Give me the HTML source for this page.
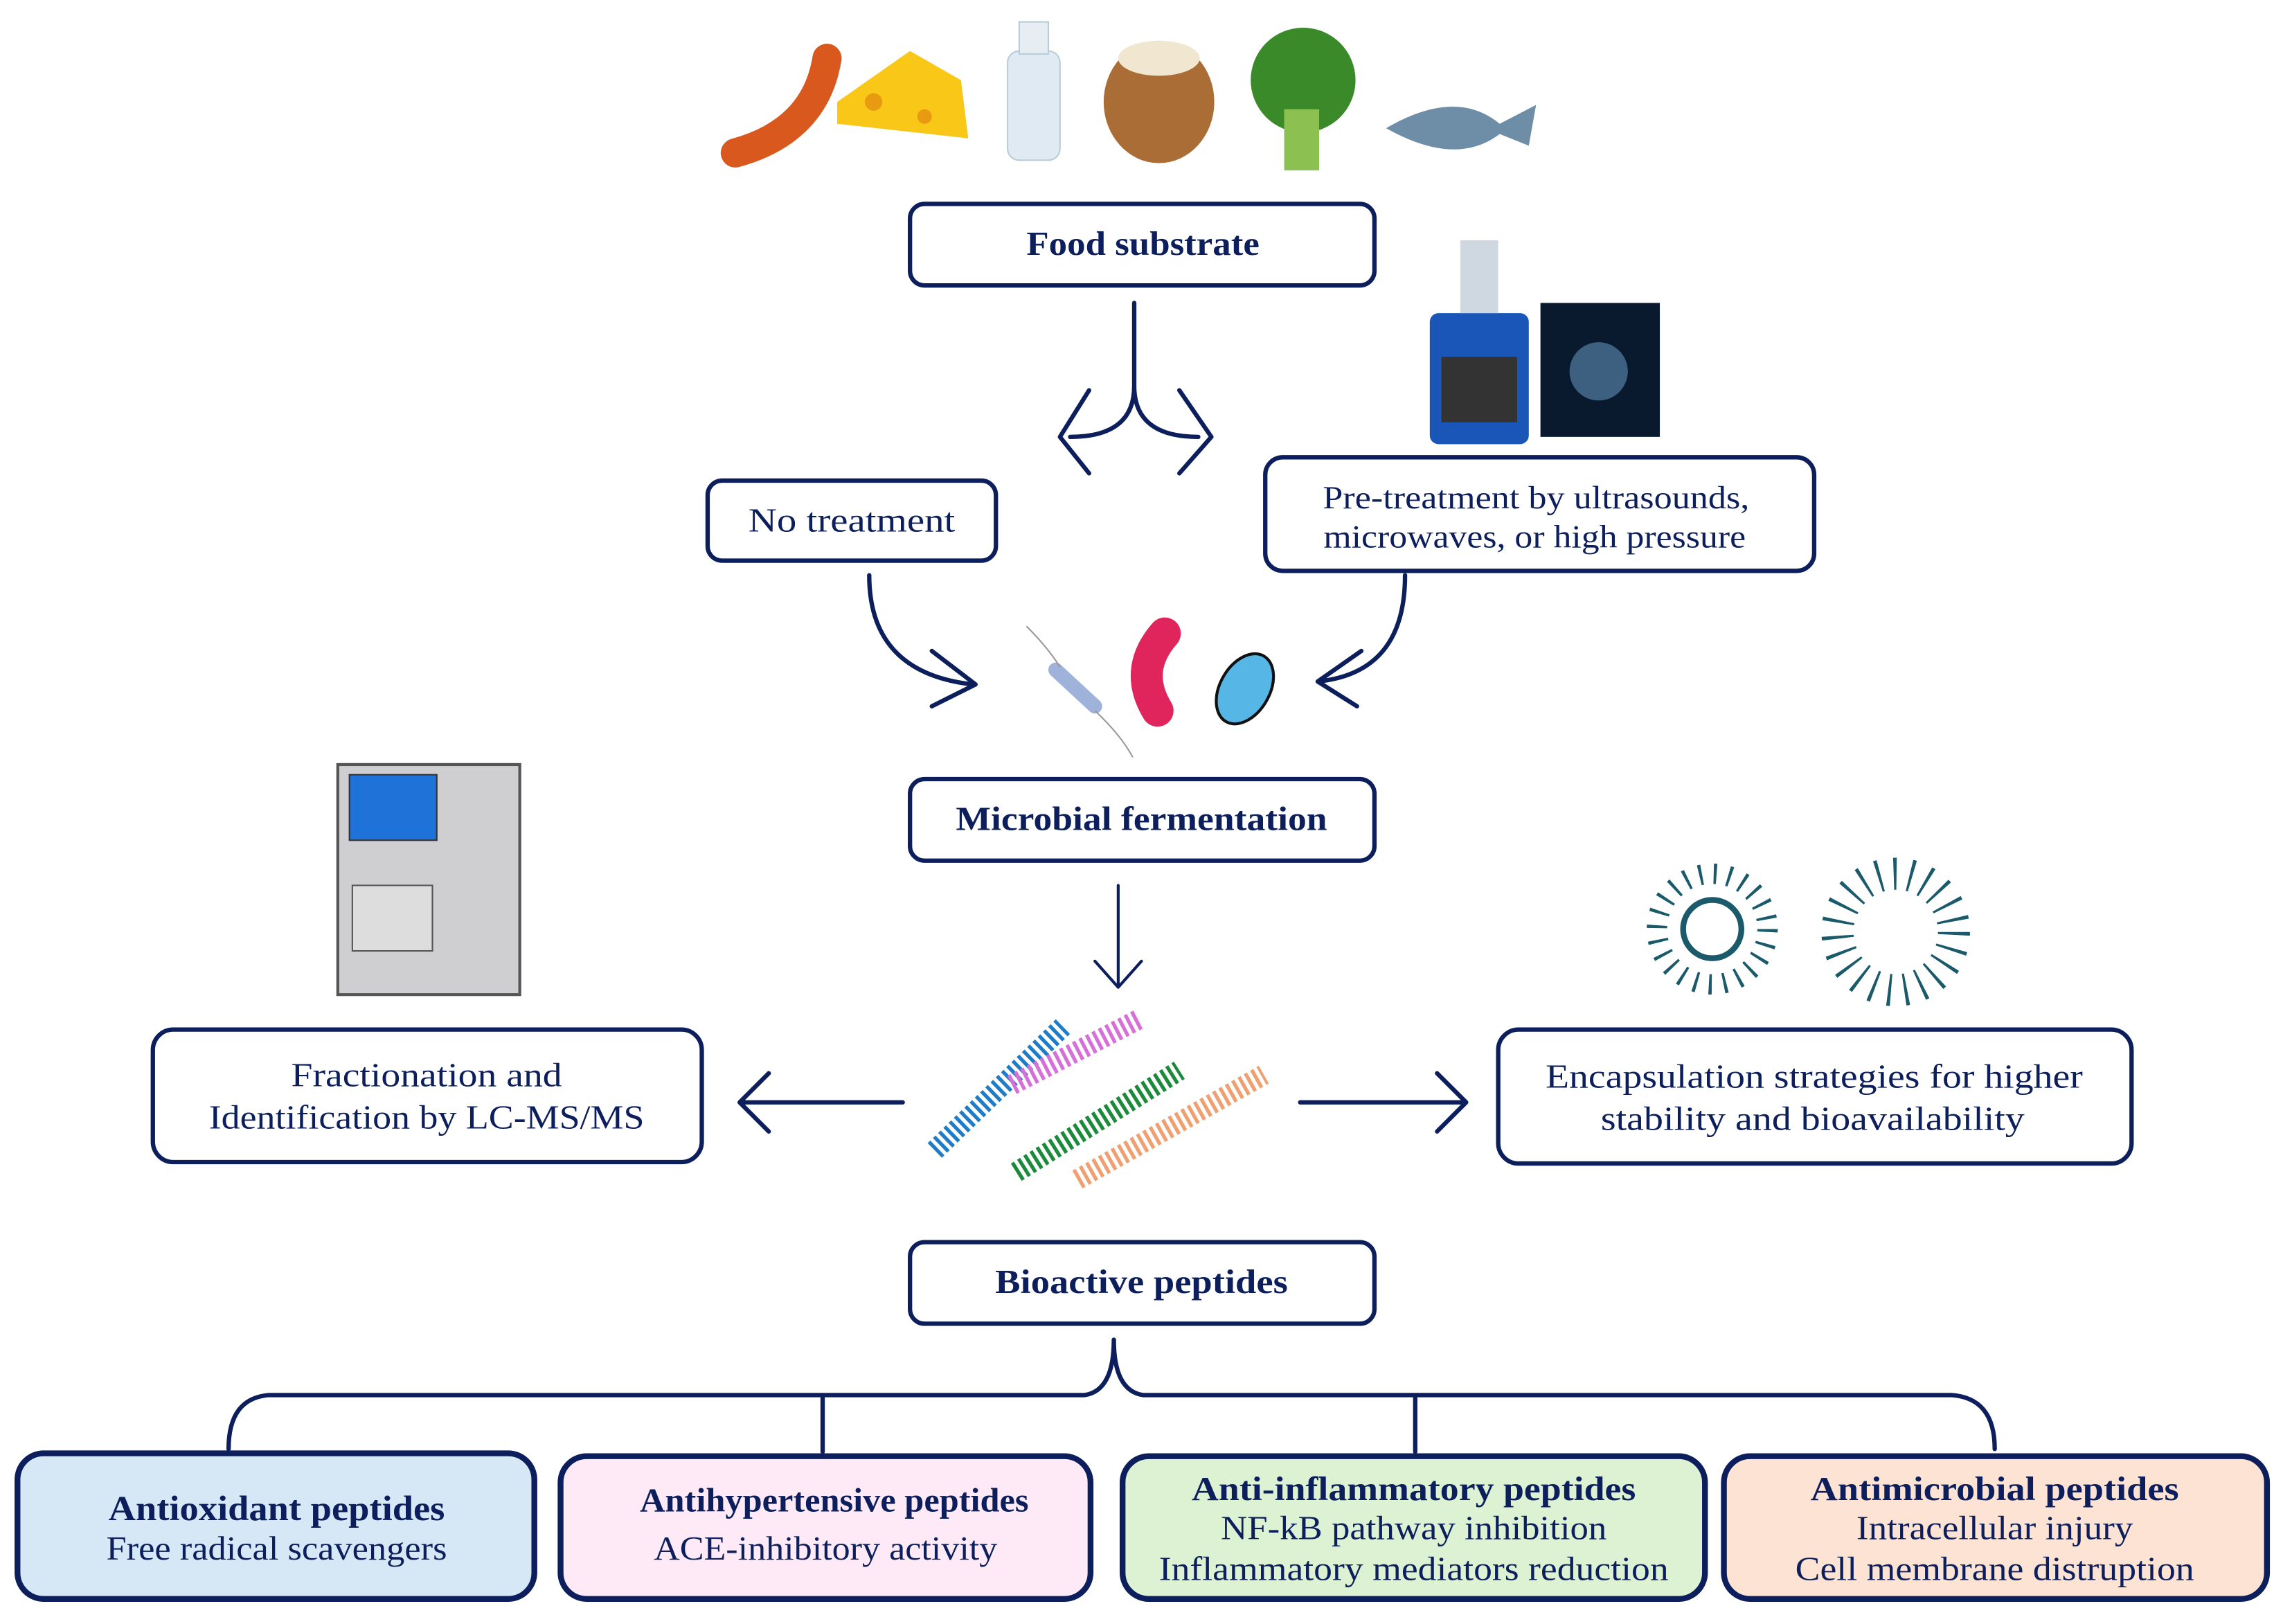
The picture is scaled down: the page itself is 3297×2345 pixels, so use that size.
<!DOCTYPE html>
<html><head><meta charset="utf-8"><style>
html,body{margin:0;padding:0;background:#fff}
svg{display:block}
text{font-family:"Liberation Serif",serif;fill:#0c1f5c;text-anchor:middle}
.b{font-weight:bold}
</style></head><body>
<svg width="3297" height="2345" viewBox="0 0 1568 1115.2" xmlns="http://www.w3.org/2000/svg">
<g fill="none" stroke="#0c1f5c" stroke-width="3" stroke-linecap="round" stroke-linejoin="round">
<rect x="625" y="140" width="319" height="56" rx="10"/>
<rect x="486" y="330" width="198" height="55" rx="10"/>
<rect x="869" y="314" width="377" height="78" rx="12"/>
<rect x="625" y="535" width="319" height="56" rx="10"/>
<rect x="105" y="707" width="377" height="91" rx="14"/>
<rect x="1029" y="707" width="435" height="92" rx="14"/>
<rect x="625" y="853" width="319" height="56" rx="10"/>
<path d="M779 208 V265 Q779 300 735 300 M779 265 Q779 300 823 300"/>
<path d="M748 268 L728 300 L748 325 M810 268 L832 300 L810 325"/>
<path d="M597 395 Q597 462 668 470 M640 447 L670 470 L640 485"/>
<path d="M965 395 Q965 462 905 468 M935 447 L905 468 L932 485"/>
<path d="M768 608 V678 M752 660 L768 678 L784 660" stroke-width="2"/>
<path d="M620 757 H508 M528 737 L508 757 L528 777"/>
<path d="M893 757 H1007 M987 737 L1007 757 L987 777"/>
<path d="M765 920 Q765 955 745 958 H185 Q157 960 157 995 M765 920 Q765 955 785 958 H1340 Q1370 960 1370 995"/>
<path d="M565 960 V997 M972 960 V997"/>
</g>
<g stroke="#0c1f5c" stroke-width="4">
<rect x="12" y="998" width="355" height="100" rx="18" fill="#d6e8f6"/>
<rect x="385" y="1000" width="364" height="98" rx="18" fill="#fdeaf6"/>
<rect x="771" y="1000" width="400" height="98" rx="18" fill="#ddf1d3"/>
<rect x="1184" y="1000" width="373" height="98" rx="18" fill="#fde3d3"/>
</g>
<g>
<path d="M505 105 Q560 90 568 40" stroke="#d8581e" stroke-width="20" stroke-linecap="round" fill="none"/>
<polygon points="575,85 665,95 660,55 625,35 575,70" fill="#f8c718"/>
<circle cx="600" cy="70" r="6" fill="#e89a10"/><circle cx="635" cy="80" r="5" fill="#e89a10"/>
<rect x="692" y="35" width="36" height="75" rx="8" fill="#dfeaf2" stroke="#b9ccd8"/>
<rect x="700" y="15" width="20" height="22" fill="#e6eef4" stroke="#b9ccd8"/>
<ellipse cx="796" cy="70" rx="38" ry="42" fill="#a96d35"/>
<ellipse cx="796" cy="40" rx="28" ry="12" fill="#f1e7d0"/>
<circle cx="895" cy="55" r="36" fill="#3a8a2a"/>
<rect x="882" y="75" width="24" height="42" fill="#8cc050"/>
<path d="M952 88 Q1000 60 1030 85 L1055 72 L1050 100 L1030 92 Q1000 115 952 88Z" fill="#6e8ea8"/>
</g>
<rect x="982" y="215" width="68" height="90" rx="6" fill="#1a56b8"/>
<rect x="990" y="245" width="52" height="45" fill="#333"/>
<rect x="1003" y="165" width="26" height="50" fill="#cfd8e0"/>
<rect x="1058" y="208" width="82" height="92" fill="#0a1a2e"/>
<circle cx="1098" cy="255" r="20" fill="#3d6080"/>
<line x1="725" y1="460" x2="752" y2="485" stroke="#9fb3da" stroke-width="10" stroke-linecap="round"/>
<path d="M705 430 Q720 445 728 458 M752 488 Q770 505 778 520" stroke="#999" fill="none"/>
<path d="M800 435 Q778 460 795 488" stroke="#e0245c" stroke-width="22" stroke-linecap="round" fill="none"/>
<ellipse cx="855" cy="473" rx="17" ry="26" transform="rotate(30 855 473)" fill="#56b6e6" stroke="#111" stroke-width="2"/>
<rect x="232" y="525" width="125" height="158" fill="#cfcfd2" stroke="#555" stroke-width="2"/>
<rect x="240" y="532" width="60" height="45" fill="#1e72d8" stroke="#333"/>
<rect x="242" y="608" width="55" height="45" fill="#ddd" stroke="#555"/>
<g stroke-width="14" fill="none" stroke-dasharray="2.5 2.5">
<path d="M642 790 L730 705" stroke="#1e7cc8"/>
<path d="M695 745 L782 700" stroke="#d66fd8"/>
<path d="M698 805 L810 735" stroke="#1b8a3a"/>
<path d="M740 810 L868 738" stroke="#f0a070"/>
</g>
<g stroke="#1a5a6a" stroke-width="2" fill="none">
<circle cx="1176" cy="638" r="20" stroke-width="4"/>
<circle cx="1176" cy="638" r="38" stroke-dasharray="2 8" stroke-width="14"/>
<circle cx="1302" cy="640" r="40" stroke-dasharray="2 9" stroke-width="22"/>
</g>
<g lengthAdjust="spacingAndGlyphs">
<text x="785" y="175" font-size="23" class="b" textLength="160" lengthAdjust="spacingAndGlyphs">Food substrate</text>
<text x="585" y="365" font-size="23" textLength="142" lengthAdjust="spacingAndGlyphs">No treatment</text>
<text x="1055" y="349" font-size="22" textLength="293" lengthAdjust="spacingAndGlyphs">Pre-treatment by ultrasounds,</text>
<text x="1054" y="376" font-size="22" textLength="290" lengthAdjust="spacingAndGlyphs">microwaves, or high pressure</text>
<text x="784" y="570" font-size="23" class="b" textLength="255" lengthAdjust="spacingAndGlyphs">Microbial fermentation</text>
<text x="293" y="746" font-size="23" textLength="186" lengthAdjust="spacingAndGlyphs">Fractionation and</text>
<text x="293" y="775" font-size="23" textLength="299" lengthAdjust="spacingAndGlyphs">Identification by LC-MS/MS</text>
<text x="1246" y="747" font-size="23" textLength="369" lengthAdjust="spacingAndGlyphs">Encapsulation strategies for higher</text>
<text x="1245" y="776" font-size="23" textLength="291" lengthAdjust="spacingAndGlyphs">stability and bioavailability</text>
<text x="784" y="888" font-size="23" class="b" textLength="201" lengthAdjust="spacingAndGlyphs">Bioactive peptides</text>
<text x="190" y="1044" font-size="24" class="b" textLength="231" lengthAdjust="spacingAndGlyphs">Antioxidant peptides</text>
<text x="190" y="1071" font-size="23" textLength="234" lengthAdjust="spacingAndGlyphs">Free radical scavengers</text>
<text x="573" y="1038" font-size="23" class="b" textLength="267" lengthAdjust="spacingAndGlyphs">Antihypertensive  peptides</text>
<text x="567" y="1071" font-size="23" textLength="236" lengthAdjust="spacingAndGlyphs">ACE-inhibitory activity</text>
<text x="971" y="1030" font-size="23" class="b" textLength="305" lengthAdjust="spacingAndGlyphs">Anti-inflammatory peptides</text>
<text x="971" y="1057" font-size="23" textLength="265" lengthAdjust="spacingAndGlyphs">NF-kB pathway inhibition</text>
<text x="971" y="1085" font-size="23" textLength="350" lengthAdjust="spacingAndGlyphs">Inflammatory mediators reduction</text>
<text x="1370" y="1030" font-size="23" class="b" textLength="253" lengthAdjust="spacingAndGlyphs">Antimicrobial peptides</text>
<text x="1370" y="1057" font-size="23" textLength="190" lengthAdjust="spacingAndGlyphs">Intracellular injury</text>
<text x="1370" y="1085" font-size="23" textLength="274" lengthAdjust="spacingAndGlyphs">Cell membrane distruption</text>
</g>
</svg>
</body></html>
